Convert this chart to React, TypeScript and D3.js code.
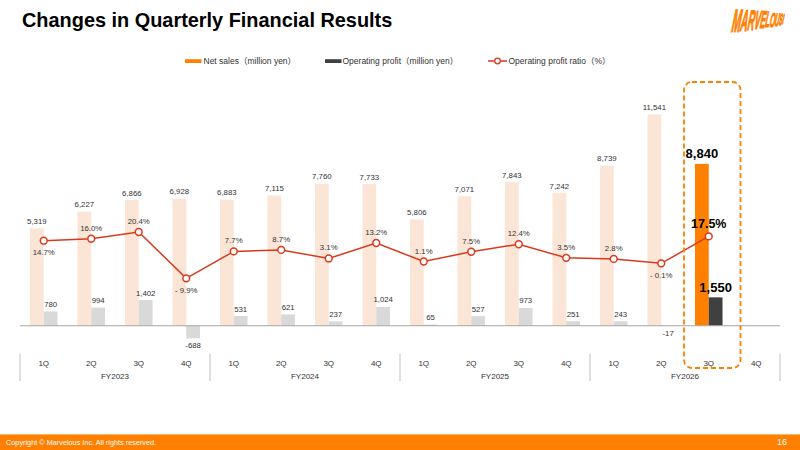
import React from 'react';
import * as d3 from 'd3';

const fiscalYears = ['FY2023', 'FY2024', 'FY2025', 'FY2026'];
const quarters = ['1Q', '2Q', '3Q', '4Q'];

// net sales / operating profit in million yen, ratio in %; FY2026 4Q not reported yet
const netSales: (number | null)[] = [
  5319, 6227, 6866, 6928,
  6883, 7115, 7760, 7733,
  5806, 7071, 7843, 7242,
  8739, 11541, 8840, null,
];
const operatingProfit: (number | null)[] = [
  780, 994, 1402, -688,
  531, 621, 237, 1024,
  65, 527, 973, 251,
  243, -17, 1550, null,
];
const operatingRatio: (number | null)[] = [
  14.7, 16.0, 20.4, -9.9,
  7.7, 8.7, 3.1, 13.2,
  1.1, 7.5, 12.4, 3.5,
  2.8, -0.1, 17.5, null,
];
// ratio labels drawn under the marker instead of above
const ratioLabelsBelow = [0, 3, 13];
const currentQuarter = 14;

const W = 800;
const H = 450;
const FONT = '"Liberation Sans", Arial, "Noto Sans CJK JP", sans-serif';

const COLORS = {
  salesPast: '#FBE5D6',
  salesNow: '#FF7F00',
  profitPast: '#D9D9D9',
  profitNow: '#404040',
  ratio: '#D9391C',
  text: '#333333',
  axis: '#A6A6A6',
  brand: '#FF7F00',
};

const slots = d3.range(fiscalYears.length * quarters.length);

const x = d3.scaleBand<number>().domain(slots).range([20, 780]).padding(0);
const barW = x.bandwidth() * 0.29;
const cx = (i: number) => (x(i) as number) + x.bandwidth() / 2;

const y = d3.scaleLinear().domain([-1500, 14000]).range([353.2, 69.4]);
const yRatio = d3.scaleLinear().domain([-60, 120]).range([355, 79.6]);

// plain hyphen for negatives, as on the slides
const fmt = (v: number) => d3.format(',')(v).replace('\u2212', '-');
const fmtRatio = (v: number) => (v < 0 ? `- ${Math.abs(v).toFixed(1)}%` : `${v.toFixed(1)}%`);

const ratioPoints = slots
  .filter((i) => operatingRatio[i] != null)
  .map((i) => ({ i, v: operatingRatio[i] as number }));

const ratioLine = d3
  .line<{ i: number; v: number }>()
  .x((d) => cx(d.i))
  .y((d) => yRatio(d.v));

// brand mark, letters shrinking to the right
const logoLetters = 'MARVELOUS!'.split('');
const logoAdvance: Record<string, number> = {
  M: 0.833, A: 0.722, R: 0.722, V: 0.667, E: 0.667, L: 0.611, O: 0.778, U: 0.722, S: 0.667, '!': 0.333,
};

function Logo() {
  const t = d3.scaleLinear().domain([0, logoLetters.length - 1]).range([0, 1]);
  const cap = d3.interpolateNumber(23, 10);
  const base = d3.interpolateNumber(31.5, 24);
  let xPos = 731;
  const sx = 0.33;
  return (
    <g fill={COLORS.brand} fontFamily={FONT} fontWeight={700} fontStyle="italic">
      {logoLetters.map((ch, i) => {
        const size = cap(t(i)) / 0.716;
        const lx = xPos;
        xPos += logoAdvance[ch] * size * sx;
        return (
          <text
            key={i}
            transform={`translate(${lx},${base(t(i))}) skewX(-8) scale(${sx},1)`}
            fontSize={size}
            stroke={COLORS.brand}
            strokeWidth={1.2}
          >
            {ch}
          </text>
        );
      })}
    </g>
  );
}

function Legend() {
  return (
    <g fontFamily={FONT} fontSize={8.5} fill={COLORS.text}>
      <rect x={185} y={59.2} width={16.5} height={3.8} fill={COLORS.salesNow} />
      <text x={203.5} y={64.3}>Net sales（million yen）</text>
      <rect x={325} y={59.2} width={16.5} height={3.8} fill={COLORS.profitNow} />
      <text x={342.5} y={64.3}>Operating profit（million yen）</text>
      <line x1={488} x2={507} y1={61} y2={61} stroke={COLORS.ratio} strokeWidth={1.5} />
      <circle cx={497.5} cy={61} r={2.8} fill="#fff" stroke={COLORS.ratio} strokeWidth={1.3} />
      <text x={508.5} y={64.3}>Operating profit ratio（%）</text>
    </g>
  );
}

export default function App() {
  const zero = y(0);
  const hx0 = x(currentQuarter) as number;

  return (
    <div style={{ position: 'absolute', left: 0, top: 0 }}>
      <svg width={W} height={H} style={{ display: 'block', background: '#fff' }}>
        <text x={22} y={26.8} fontFamily={FONT} fontSize={19.9} fontWeight={700} fill="#000">
          Changes in Quarterly Financial Results
        </text>
        <Logo />
        <Legend />

        {/* net sales bars */}
        {slots.map((i) =>
          netSales[i] == null ? null : (
            <rect
              key={`s${i}`}
              x={cx(i) - barW}
              y={y(netSales[i] as number)}
              width={barW}
              height={zero - y(netSales[i] as number)}
              fill={i === currentQuarter ? COLORS.salesNow : COLORS.salesPast}
            />
          )
        )}

        {/* operating profit bars */}
        {slots.map((i) => {
          const v = operatingProfit[i];
          if (v == null) return null;
          return (
            <rect
              key={`p${i}`}
              x={cx(i)}
              y={Math.min(y(v), zero)}
              width={barW}
              height={Math.abs(zero - y(v))}
              fill={i === currentQuarter ? COLORS.profitNow : COLORS.profitPast}
            />
          );
        })}

        <line x1={20} x2={780} y1={zero} y2={zero} stroke={COLORS.axis} strokeWidth={1} />

        {/* value labels */}
        <g fontFamily={FONT} fill={COLORS.text} textAnchor="middle">
          {slots.map((i) => {
            const v = netSales[i];
            if (v == null) return null;
            const now = i === currentQuarter;
            return (
              <text
                key={`sl${i}`}
                x={cx(i) - barW / 2}
                y={y(v) - (now ? 5.8 : 4.5)}
                fontSize={now ? 13 : 7.8}
                fontWeight={now ? 700 : 400}
                fill={now ? '#000' : COLORS.text}
              >
                {fmt(v)}
              </text>
            );
          })}
          {slots.map((i) => {
            const v = operatingProfit[i];
            if (v == null) return null;
            const now = i === currentQuarter;
            const ty = v < 0 ? y(v) + 10 : y(v) - (now ? 5 : 4.5);
            return (
              <text
                key={`pl${i}`}
                x={cx(i) + barW / 2}
                y={ty}
                fontSize={now ? 13 : 7.8}
                fontWeight={now ? 700 : 400}
                fill={now ? '#000' : COLORS.text}
              >
                {fmt(v)}
              </text>
            );
          })}
        </g>

        {/* operating profit ratio */}
        <path d={ratioLine(ratioPoints) ?? ''} fill="none" stroke={COLORS.ratio} strokeWidth={1.5} />
        {ratioPoints.map((d) => (
          <circle
            key={`c${d.i}`}
            cx={cx(d.i)}
            cy={yRatio(d.v)}
            r={3.4}
            fill="#fff"
            stroke={COLORS.ratio}
            strokeWidth={1.5}
          />
        ))}
        <g fontFamily={FONT} textAnchor="middle">
          {ratioPoints.map((d) => {
            const now = d.i === currentQuarter;
            const below = ratioLabelsBelow.includes(d.i);
            return (
              <text
                key={`rl${d.i}`}
                x={cx(d.i)}
                y={below ? yRatio(d.v) + 14.3 : yRatio(d.v) - (now ? 8.6 : 8)}
                fontSize={now ? 12.5 : 7.8}
                fontWeight={now ? 700 : 400}
                fill={now ? '#000' : COLORS.text}
              >
                {fmtRatio(d.v)}
              </text>
            );
          })}
        </g>

        {/* category axis: quarters grouped by fiscal year */}
        <g fontFamily={FONT} fontSize={8} fill={COLORS.text} textAnchor="middle">
          {fiscalYears.map((fy, g) => {
            const first = g * quarters.length;
            const left = x(first) as number;
            const right = (x(first + quarters.length - 1) as number) + x.bandwidth();
            return (
              <g key={fy}>
                <line x1={left} x2={left} y1={354} y2={381} stroke="#BFBFBF" strokeWidth={1} />
                {quarters.map((q, k) => (
                  <text key={q} x={cx(first + k)} y={366}>
                    {q}
                  </text>
                ))}
                <text x={(left + right) / 2} y={379}>
                  {fy}
                </text>
              </g>
            );
          })}
          <line x1={780} x2={780} y1={354} y2={381} stroke="#BFBFBF" strokeWidth={1} />
        </g>

        {/* highlight around the latest quarter */}
        <rect
          x={hx0 - 1}
          y={82}
          width={x.bandwidth() + 9}
          height={286}
          rx={8}
          fill="none"
          stroke={COLORS.brand}
          strokeWidth={1.8}
          strokeDasharray="5 3"
        />

        {/* footer */}
        <rect x={0} y={434} width={W} height={16} fill={COLORS.brand} />
        <line x1={0} x2={W} y1={434.5} y2={434.5} stroke="#FFB36B" strokeWidth={1} />
        <text x={6} y={444.5} fontFamily={FONT} fontSize={7.3} fill="#fff">
          Copyright © Marvelous Inc. All rights reserved.
        </text>
        <text x={787} y={445} fontFamily={FONT} fontSize={9} fill="#fff" textAnchor="end">
          16
        </text>
      </svg>
    </div>
  );
}
